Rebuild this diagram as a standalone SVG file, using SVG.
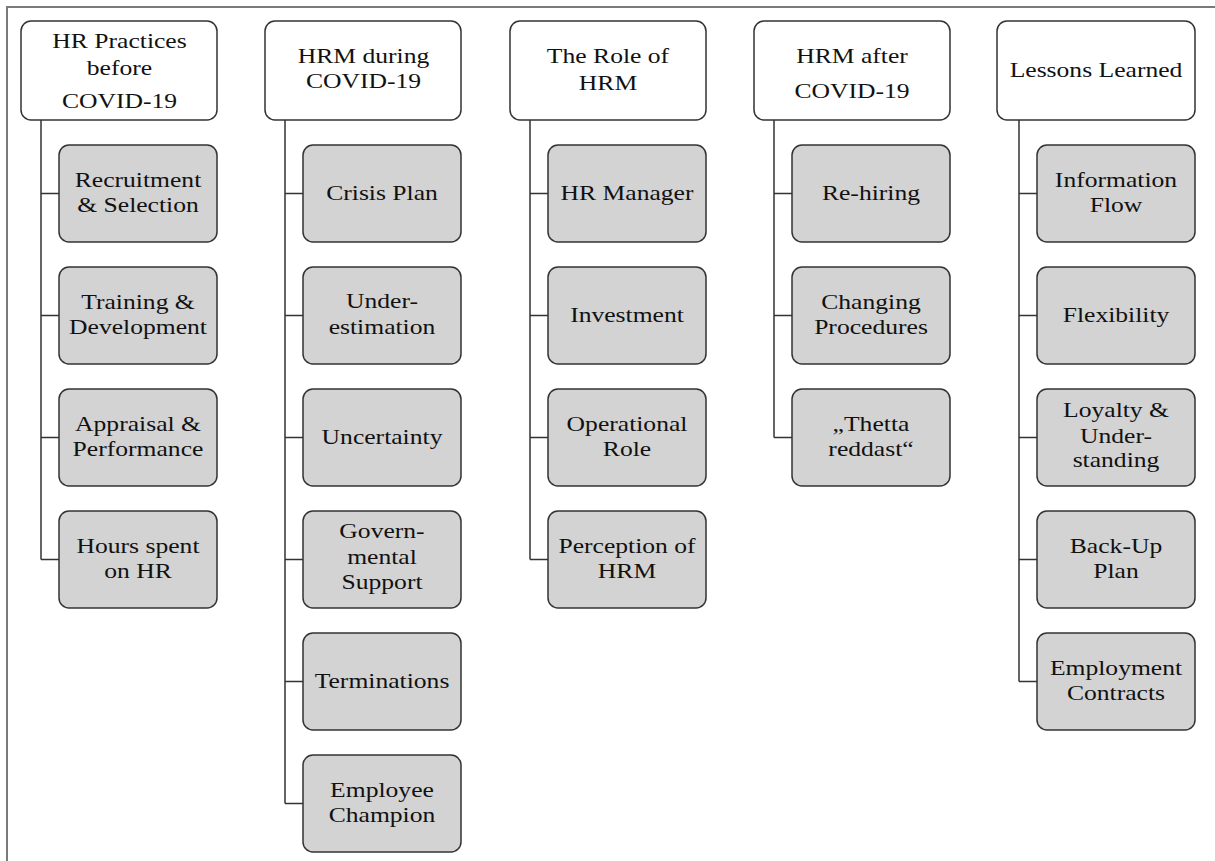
<svg xmlns="http://www.w3.org/2000/svg" width="1215" height="861" viewBox="0 0 1215 861">
<style>
.hdr{fill:#ffffff;stroke:#333333;stroke-width:1.5}
.box{fill:#d3d3d3;stroke:#333333;stroke-width:1.5}
.ln{fill:none;stroke:#333333;stroke-width:1.5}
.frame{fill:none;stroke:#7a7a7a;stroke-width:2}
text{font-family:"Liberation Serif","Times New Roman",serif;font-size:21px;fill:#111111;text-anchor:middle}
</style>
<rect width="1215" height="861" fill="#ffffff"/>
<path class="frame" d="M7 861 V7 H1215"/>

<g id="connectors">
<path class="ln" d="M41 120 V559.5 M41 193.5 H59 M41 315.5 H59 M41 437.5 H59 M41 559.5 H59"/>
<path class="ln" d="M285 120 V803.5 M285 193.5 H303 M285 315.5 H303 M285 437.5 H303 M285 559.5 H303 M285 681.5 H303 M285 803.5 H303"/>
<path class="ln" d="M530 120 V559.5 M530 193.5 H548 M530 315.5 H548 M530 437.5 H548 M530 559.5 H548"/>
<path class="ln" d="M774 120 V437.5 M774 193.5 H792 M774 315.5 H792 M774 437.5 H792"/>
<path class="ln" d="M1019 120 V681.5 M1019 193.5 H1037 M1019 315.5 H1037 M1019 437.5 H1037 M1019 559.5 H1037 M1019 681.5 H1037"/>
</g>

<!-- Column 1 -->
<g id="h1"><rect class="hdr" x="21" y="21" width="196" height="99" rx="10"/>
<g transform="translate(119.5 0) scale(1.22 1)"><text x="0" y="48">HR Practices</text><text x="0" y="75">before</text><text x="0" y="108">COVID-19</text></g></g>
<g id="c1r1"><rect class="box" x="59" y="145" width="158" height="97" rx="10"/>
<g transform="translate(138 0) scale(1.22 1)"><text x="0" y="187.5">Recruitment</text><text x="0" y="212.5">&amp; Selection</text></g></g>
<g id="c1r2"><rect class="box" x="59" y="267" width="158" height="97" rx="10"/>
<g transform="translate(138 0) scale(1.22 1)"><text x="0" y="309.5">Training &amp;</text><text x="0" y="334.5">Development</text></g></g>
<g id="c1r3"><rect class="box" x="59" y="389" width="158" height="97" rx="10"/>
<g transform="translate(138 0) scale(1.22 1)"><text x="0" y="431.5">Appraisal &amp;</text><text x="0" y="456.5">Performance</text></g></g>
<g id="c1r4"><rect class="box" x="59" y="511" width="158" height="97" rx="10"/>
<g transform="translate(138 0) scale(1.22 1)"><text x="0" y="553.5">Hours spent</text><text x="0" y="578.5">on HR</text></g></g>

<!-- Column 2 -->
<g id="h2"><rect class="hdr" x="265" y="21" width="196" height="99" rx="10"/>
<g transform="translate(363.5 0) scale(1.22 1)"><text x="0" y="63">HRM during</text><text x="0" y="88">COVID-19</text></g></g>
<g id="c2r1"><rect class="box" x="303" y="145" width="158" height="97" rx="10"/>
<g transform="translate(382 0) scale(1.22 1)"><text x="0" y="200.5">Crisis Plan</text></g></g>
<g id="c2r2"><rect class="box" x="303" y="267" width="158" height="97" rx="10"/>
<g transform="translate(382 0) scale(1.22 1)"><text x="0" y="308.5">Under-</text><text x="0" y="334">estimation</text></g></g>
<g id="c2r3"><rect class="box" x="303" y="389" width="158" height="97" rx="10"/>
<g transform="translate(382 0) scale(1.22 1)"><text x="0" y="444.5">Uncertainty</text></g></g>
<g id="c2r4"><rect class="box" x="303" y="511" width="158" height="97" rx="10"/>
<g transform="translate(382 0) scale(1.22 1)"><text x="0" y="538.5">Govern-</text><text x="0" y="564.5">mental</text><text x="0" y="589.5">Support</text></g></g>
<g id="c2r5"><rect class="box" x="303" y="633" width="158" height="97" rx="10"/>
<g transform="translate(382 0) scale(1.22 1)"><text x="0" y="688.5">Terminations</text></g></g>
<g id="c2r6"><rect class="box" x="303" y="755" width="158" height="97" rx="10"/>
<g transform="translate(382 0) scale(1.22 1)"><text x="0" y="797.5">Employee</text><text x="0" y="822.5">Champion</text></g></g>

<!-- Column 3 -->
<g id="h3"><rect class="hdr" x="510" y="21" width="196" height="99" rx="10"/>
<g transform="translate(608 0) scale(1.22 1)"><text x="0" y="63">The Role of</text><text x="0" y="90">HRM</text></g></g>
<g id="c3r1"><rect class="box" x="548" y="145" width="158" height="97" rx="10"/>
<g transform="translate(627 0) scale(1.22 1)"><text x="0" y="200.5">HR Manager</text></g></g>
<g id="c3r2"><rect class="box" x="548" y="267" width="158" height="97" rx="10"/>
<g transform="translate(627 0) scale(1.22 1)"><text x="0" y="322.5">Investment</text></g></g>
<g id="c3r3"><rect class="box" x="548" y="389" width="158" height="97" rx="10"/>
<g transform="translate(627 0) scale(1.22 1)"><text x="0" y="431.5">Operational</text><text x="0" y="456.5">Role</text></g></g>
<g id="c3r4"><rect class="box" x="548" y="511" width="158" height="97" rx="10"/>
<g transform="translate(627 0) scale(1.22 1)"><text x="0" y="553.5">Perception of</text><text x="0" y="578.5">HRM</text></g></g>

<!-- Column 4 -->
<g id="h4"><rect class="hdr" x="754" y="21" width="196" height="99" rx="10"/>
<g transform="translate(852 0) scale(1.22 1)"><text x="0" y="63">HRM after</text><text x="0" y="98">COVID-19</text></g></g>
<g id="c4r1"><rect class="box" x="792" y="145" width="158" height="97" rx="10"/>
<g transform="translate(871 0) scale(1.22 1)"><text x="0" y="200.5">Re-hiring</text></g></g>
<g id="c4r2"><rect class="box" x="792" y="267" width="158" height="97" rx="10"/>
<g transform="translate(871 0) scale(1.22 1)"><text x="0" y="309.5">Changing</text><text x="0" y="334.5">Procedures</text></g></g>
<g id="c4r3"><rect class="box" x="792" y="389" width="158" height="97" rx="10"/>
<g transform="translate(871 0) scale(1.22 1)"><text x="0" y="431.5">„Thetta</text><text x="0" y="456.5">reddast“</text></g></g>

<!-- Column 5 -->
<g id="h5"><rect class="hdr" x="997" y="21" width="198" height="99" rx="10"/>
<g transform="translate(1096 0) scale(1.22 1)"><text x="0" y="77">Lessons Learned</text></g></g>
<g id="c5r1"><rect class="box" x="1037" y="145" width="158" height="97" rx="10"/>
<g transform="translate(1116 0) scale(1.22 1)"><text x="0" y="187.5">Information</text><text x="0" y="212.5">Flow</text></g></g>
<g id="c5r2"><rect class="box" x="1037" y="267" width="158" height="97" rx="10"/>
<g transform="translate(1116 0) scale(1.22 1)"><text x="0" y="322.5">Flexibility</text></g></g>
<g id="c5r3"><rect class="box" x="1037" y="389" width="158" height="97" rx="10"/>
<g transform="translate(1116 0) scale(1.22 1)"><text x="0" y="417">Loyalty &amp;</text><text x="0" y="443">Under-</text><text x="0" y="467.5">standing</text></g></g>
<g id="c5r4"><rect class="box" x="1037" y="511" width="158" height="97" rx="10"/>
<g transform="translate(1116 0) scale(1.22 1)"><text x="0" y="553.5">Back-Up</text><text x="0" y="578.5">Plan</text></g></g>
<g id="c5r5"><rect class="box" x="1037" y="633" width="158" height="97" rx="10"/>
<g transform="translate(1116 0) scale(1.22 1)"><text x="0" y="675.5">Employment</text><text x="0" y="700.5">Contracts</text></g></g>
</svg>
